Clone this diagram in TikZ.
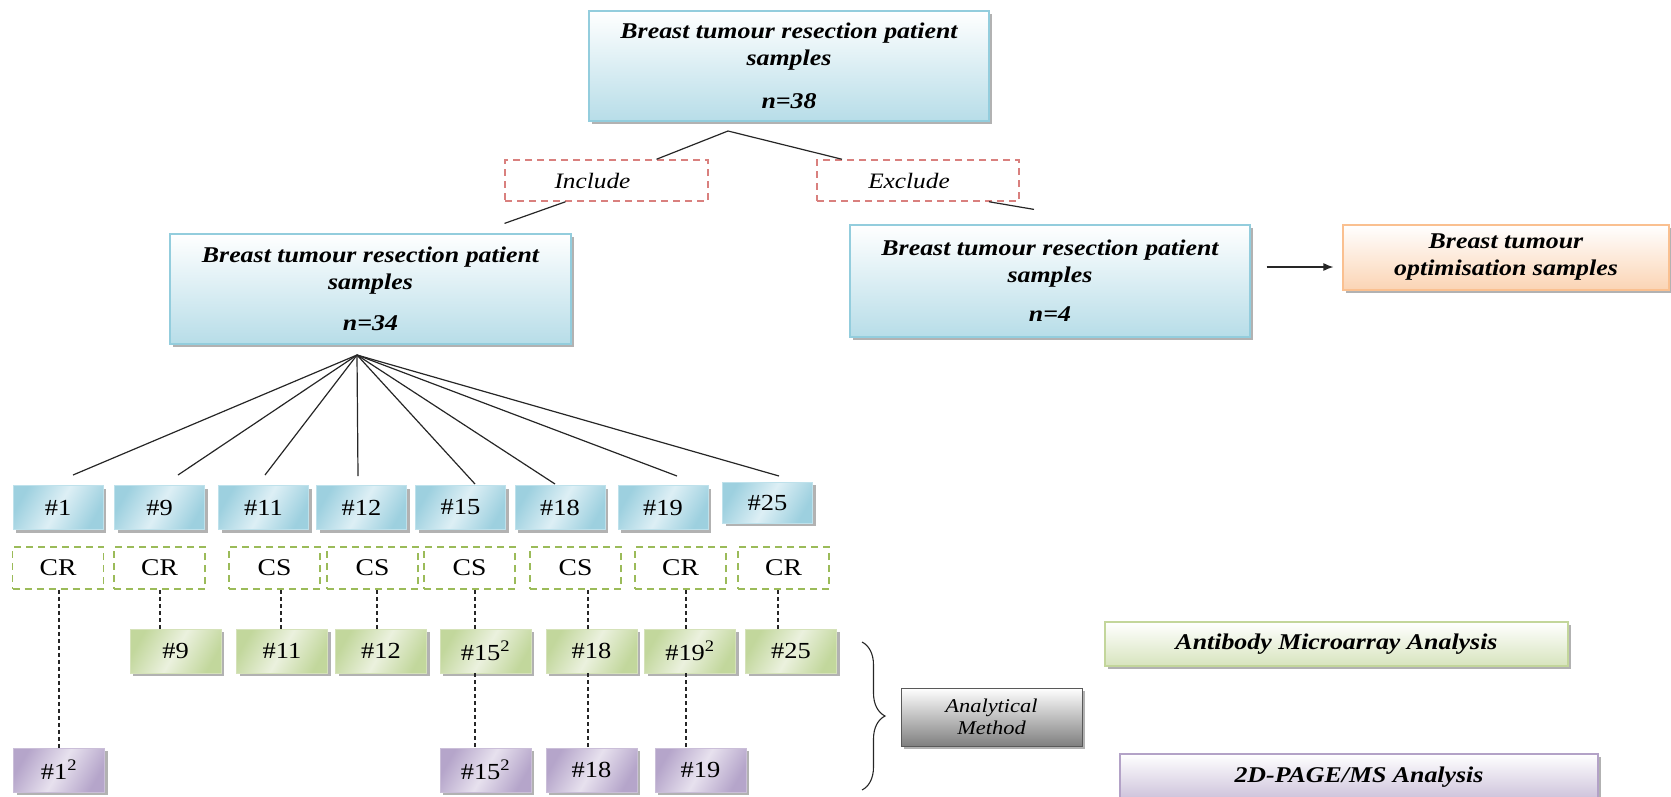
\documentclass[tikz,border=0pt]{standalone}
\usepackage{fontspec}
\setmainfont{Liberation Serif}[FakeStretch=1.15]
\usetikzlibrary{shadows,decorations.pathreplacing,arrows.meta}

\definecolor{blueedge}{HTML}{93CDDD}
\definecolor{bluefill}{HTML}{B7DDE8}
\definecolor{bluedeep}{HTML}{9DD0DF}
\definecolor{bluelite}{HTML}{DDEFF5}
\definecolor{greenedge}{HTML}{C3D69B}
\definecolor{greenfill}{HTML}{D7E4BD}
\definecolor{greendeep}{HTML}{C2D79C}
\definecolor{greenlite}{HTML}{EBF1DE}
\definecolor{purpleedge}{HTML}{B3A2C7}
\definecolor{purplefill}{HTML}{CCC1DA}
\definecolor{purpledeep}{HTML}{B5A5CA}
\definecolor{purplelite}{HTML}{E7E1EE}
\definecolor{orangeedge}{HTML}{FAC090}
\definecolor{orangefill}{HTML}{FBD4B4}
\definecolor{reddash}{HTML}{D9807E}
\definecolor{greendash}{HTML}{9BBB59}
\definecolor{greyedge}{HTML}{595959}
\definecolor{greyfill}{HTML}{7F7F7F}

\begin{document}
\begin{tikzpicture}[x=1pt,y=-1pt,
  boxshadow/.style={drop shadow={shadow xshift=3pt,shadow yshift=-3pt,fill=black,opacity=0.3}},
  bigfont/.style={font=\fontsize{22.5}{27}\selectfont\bfseries\itshape},
  panel/.style={inner sep=0pt,align=center,line width=1.2pt,boxshadow,top color=white},
  bluepanel/.style={panel,bigfont,draw=blueedge,bottom color=bluefill},
  tile/.style={minimum width=90pt,minimum height=44pt,inner sep=0pt,line width=0.9pt,
    boxshadow,font=\fontsize{23}{27}\selectfont},
  bluetile/.style={tile,draw=blueedge!60!white,left color=bluedeep,right color=bluedeep,
    middle color=bluelite,shading angle=60},
  greentile/.style={tile,minimum width=91pt,draw=greenedge!70!white,left color=greendeep,
    right color=greendeep,middle color=greenlite,shading angle=60},
  purpletile/.style={tile,minimum width=91pt,draw=purpleedge!70!white,left color=purpledeep,
    right color=purpledeep,middle color=purplelite,shading angle=60},
  dashtile/.style={minimum width=91pt,minimum height=42pt,inner sep=0pt,draw=greendash,
    line width=1.5pt,dash pattern=on 7pt off 5pt,font=\fontsize{24}{28}\selectfont},
  choice/.style={minimum width=203pt,minimum height=41pt,inner sep=0pt,draw=reddash,
    line width=1.5pt,dash pattern=on 7pt off 5pt,font=\fontsize{22}{26}\selectfont\itshape},
  link/.style={line width=1.2pt,black!85},
  vdash/.style={line width=1.3pt,black!85,dash pattern=on 4pt off 3pt},
]
\useasboundingbox (0,0) rectangle (1671,796);
\clip (0,0) rectangle (1671,796);

% sample groups
\node[bluepanel,minimum width=400pt,minimum height=110pt] (top) at (789,66)
  {Breast tumour resection patient\\samples\\[16pt]n=38};
\node[bluepanel,minimum width=401pt,minimum height=110pt] (lmid) at (370.5,289)
  {Breast tumour resection patient\\samples\\[14pt]n=34};
\node[bluepanel,minimum width=400pt,minimum height=112pt] (rmid) at (1050,281)
  {Breast tumour resection patient\\samples\\[12pt]n=4};
\node[panel,bigfont,draw=orangeedge,bottom color=orangefill,
  minimum width=326pt,minimum height=65pt] (opt) at (1506,257.5)
  {Breast tumour\\optimisation samples};

% inclusion decision
\node[choice] (inc) at (606.5,180.5) {Include\hspace*{28pt}};
\node[choice,minimum width=202pt] (exc) at (918,180.5) {Exclude\hspace*{18pt}};

\coordinate (split) at (728,131);
\draw[link] ([xshift=50pt]inc.north) -- (split) -- ([xshift=-76pt]exc.north);
\draw[link] ([xshift=-41pt]inc.south) -- ([xshift=134pt,yshift=10pt]lmid.north);
\draw[link] ([xshift=71pt]exc.south) -- ([xshift=-16pt,yshift=15pt]rmid.north);

\coordinate (ay) at (0,267);
\draw[link,-{Latex[length=10pt,width=8pt]}] ([xshift=16pt]rmid.east |- ay) -- ([xshift=-9pt]opt.west |- ay);

% patient tiles
\node[bluetile] (b1)  at (58,507.5)  {\#1};
\node[bluetile] (b9)  at (159.5,507.5) {\#9};
\node[bluetile] (b11) at (263.5,507.5) {\#11};
\node[bluetile] (b12) at (361.5,507.5) {\#12};
\node[bluetile] (b15) at (460.5,507.5) {\#15};
\node[bluetile] (b18) at (560,507.5) {\#18};
\node[bluetile] (b19) at (663,507.5) {\#19};
\node[bluetile,minimum height=41pt] (b25) at (767.5,502.5) {\#25};

\coordinate (fanroot) at (357,355);
\foreach \n/\x/\y in {1/73/475,9/178/475,11/265/475,12/358/476,15/475/484,18/555/484,19/677/476,25/779/476}{
  \coordinate (f\n) at (\x,\y);
  \draw[link] (fanroot) -- (f\n);
}

% response class
\node[dashtile] (c1)  at (58,568)    {CR};
\node[dashtile] (c9)  at (159.5,568) {CR};
\node[dashtile] (c11) at (274.5,568) {CS};
\node[dashtile] (c12) at (372.5,568) {CS};
\node[dashtile] (c15) at (469.5,568) {CS};
\node[dashtile] (c18) at (575.5,568) {CS};
\node[dashtile] (c19) at (680.5,568) {CR};
\node[dashtile] (c25) at (783.5,568) {CR};

% antibody microarray samples
\node[greentile] (g9)  at (175.5,651) {\#9};
\node[greentile] (g11) at (282,651)   {\#11};
\node[greentile] (g12) at (381,651)   {\#12};
\node[greentile] (g15) at (485.5,651) {\#15\textsuperscript{2}};
\node[greentile] (g18) at (591.5,651) {\#18};
\node[greentile] (g19) at (690,651)   {\#19\textsuperscript{2}};
\node[greentile] (g25) at (791,651)   {\#25};

% 2D-PAGE/MS samples
\node[purpletile] (p1)  at (59,770)    {\#1\textsuperscript{2}};
\node[purpletile] (p15) at (485.5,770) {\#15\textsuperscript{2}};
\node[purpletile] (p18) at (591.5,770) {\#18};
\node[purpletile] (p19) at (700.5,770) {\#19};

% vertical guides
\foreach \n/\x in {1/59,9/160,11/281,12/377,15/475,18/588,19/686,25/778}{
  \coordinate (v\n) at (\x,0);
}
\draw[vdash] (c1.south -| v1) -- (p1.north -| v1);
\draw[vdash] (c9.south -| v9) -- (g9.north -| v9);
\draw[vdash] (c11.south -| v11) -- (g11.north -| v11);
\draw[vdash] (c12.south -| v12) -- (g12.north -| v12);
\draw[vdash] (c15.south -| v15) -- (g15.north -| v15);
\draw[vdash] (g15.south -| v15) -- (p15.north -| v15);
\draw[vdash] (c18.south -| v18) -- (g18.north -| v18);
\draw[vdash] (g18.south -| v18) -- (p18.north -| v18);
\draw[vdash] (c19.south -| v19) -- (g19.north -| v19);
\draw[vdash] (g19.south -| v19) -- (p19.north -| v19);
\draw[vdash] (c25.south -| v25) -- (g25.north -| v25);

% analytical method legend
\coordinate (brtop) at (862,642);
\coordinate (brbot) at (862,790);
\draw[line width=1.1pt,black!85,decorate,decoration={brace,amplitude=23pt}] (brtop) -- (brbot);
\node[panel,draw=greyedge,bottom color=greyfill,line width=1pt,
  minimum width=181pt,minimum height=58pt,font=\fontsize{19.5}{22}\selectfont\itshape] (meth) at (991.5,717)
  {Analytical\\Method};
\node[panel,bigfont,draw=greenedge,bottom color=greenfill,
  minimum width=463pt,minimum height=44pt] (ab) at (1336.5,644) {Antibody Microarray Analysis};
\node[panel,bigfont,draw=purpleedge,bottom color=purplefill,
  minimum width=478pt,minimum height=46pt] (ms) at (1359,777) {\raisebox{3pt}{2D-PAGE/MS Analysis}};
\end{tikzpicture}
\end{document}
